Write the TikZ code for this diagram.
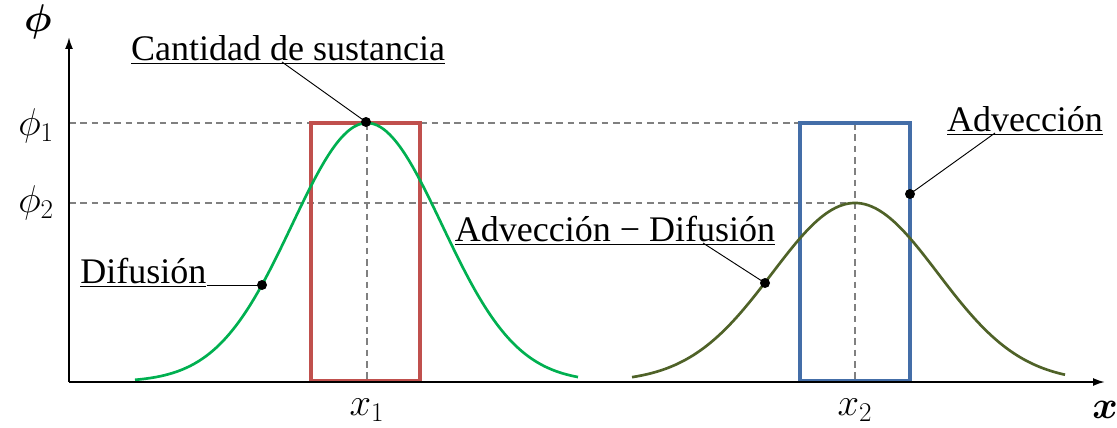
\documentclass[tikz,border=0pt]{standalone}
\usepackage{fix-cm}
\usepackage{bm}
\usepackage{fontspec}
\setmainfont{Liberation Serif}
\usetikzlibrary{arrows.meta,calc}
\definecolor{redbox}{RGB}{192,80,77}
\definecolor{bluebox}{RGB}{68,110,168}
\definecolor{greencurve}{RGB}{0,176,80}
\definecolor{olivecurve}{RGB}{79,98,40}
\tikzset{
  axis/.style={line width=1.4pt,-{Latex[length=9pt,width=6pt]}},
  guide/.style={gray,dashed,line width=0.8pt,dash pattern=on 5pt off 3.5pt},
  lbl/.style={font=\fontsize{27}{31}\selectfont,inner sep=0pt},
  mlbl/.style={font=\fontsize{29}{33}\selectfont,inner sep=0pt},
  leader/.style={line width=0.7pt},
  dot/.style={circle,fill=black,inner sep=0pt,minimum size=7.5pt},
  boxr/.style={draw=redbox,line width=2.4pt},
  boxb/.style={draw=bluebox,line width=2.4pt},
}
\begin{document}
\begin{tikzpicture}[x=0.75pt,y=-0.75pt]
\useasboundingbox (0,0) rectangle (1117,428);
% guides
\draw[guide] (69,123) -- (800,123);
\draw[guide] (69,203) -- (855,203);
\draw[guide] (367,123) -- (367,382);
\draw[guide] (855,123) -- (855,382);
% boxes
\draw[boxr] (311,123) rectangle (420,381);
\draw[boxb] (800,123) rectangle (910,381);
% curves
\draw[greencurve,line width=2pt] plot[domain=135:578,samples=120,smooth] (\x,{382-259*exp(-((\x-367)/75)^2/2)});
\draw[olivecurve,line width=2pt] plot[domain=632:1065,samples=120,smooth] (\x,{382-179*exp(-((\x-855)/83)^2/2)});
% axes
\coordinate (O) at (69,382);
\coordinate (ytip) at (69,37);
\coordinate (xtip) at (1105,382);
\draw[axis] (O) -- (ytip);
\draw[axis] (O) -- (xtip);
\node[mlbl] (phi) at (38,22) {$\bm{\phi}$};
\node[mlbl] (xl) at (1105,410) {$\bm{x}$};
\node[mlbl] (phi1) at (36,126) {$\phi_1$};
\node[mlbl] (phi2) at (36,203) {$\phi_2$};
\node[mlbl] (x1) at (367,410) {$x_1$};
\node[mlbl] (x2) at (855,410) {$x_2$};
% dots
\node[dot] (d1) at (366,122) {};
\node[dot] (d2) at (262,285) {};
\node[dot] (d3) at (765,283) {};
\node[dot] (d4) at (910,194) {};
% labels
\node[lbl,anchor=south] (cant) at (288,64) {\underline{Cantidad de sustancia}};
\node[lbl,anchor=south west] (dif) at (80,287) {\underline{Difusión}};
\node[lbl,anchor=south] (ad) at (615,245) {\underline{Advección − Difusión}};
\node[lbl,anchor=south] (adv) at (1025,135) {\underline{Advección}};
% leaders
\draw[leader] ($(cant.south)+(-6,-2)$) -- (d1.center);
\draw[leader] ($(dif.south east)+(0,-2)$) -- (d2.center);
\draw[leader] ($(ad.south)+(88,-2)$) -- (d3.center);
\draw[leader] ($(adv.south)+(-30,-2)$) -- (d4.center);
\end{tikzpicture}
\end{document}
